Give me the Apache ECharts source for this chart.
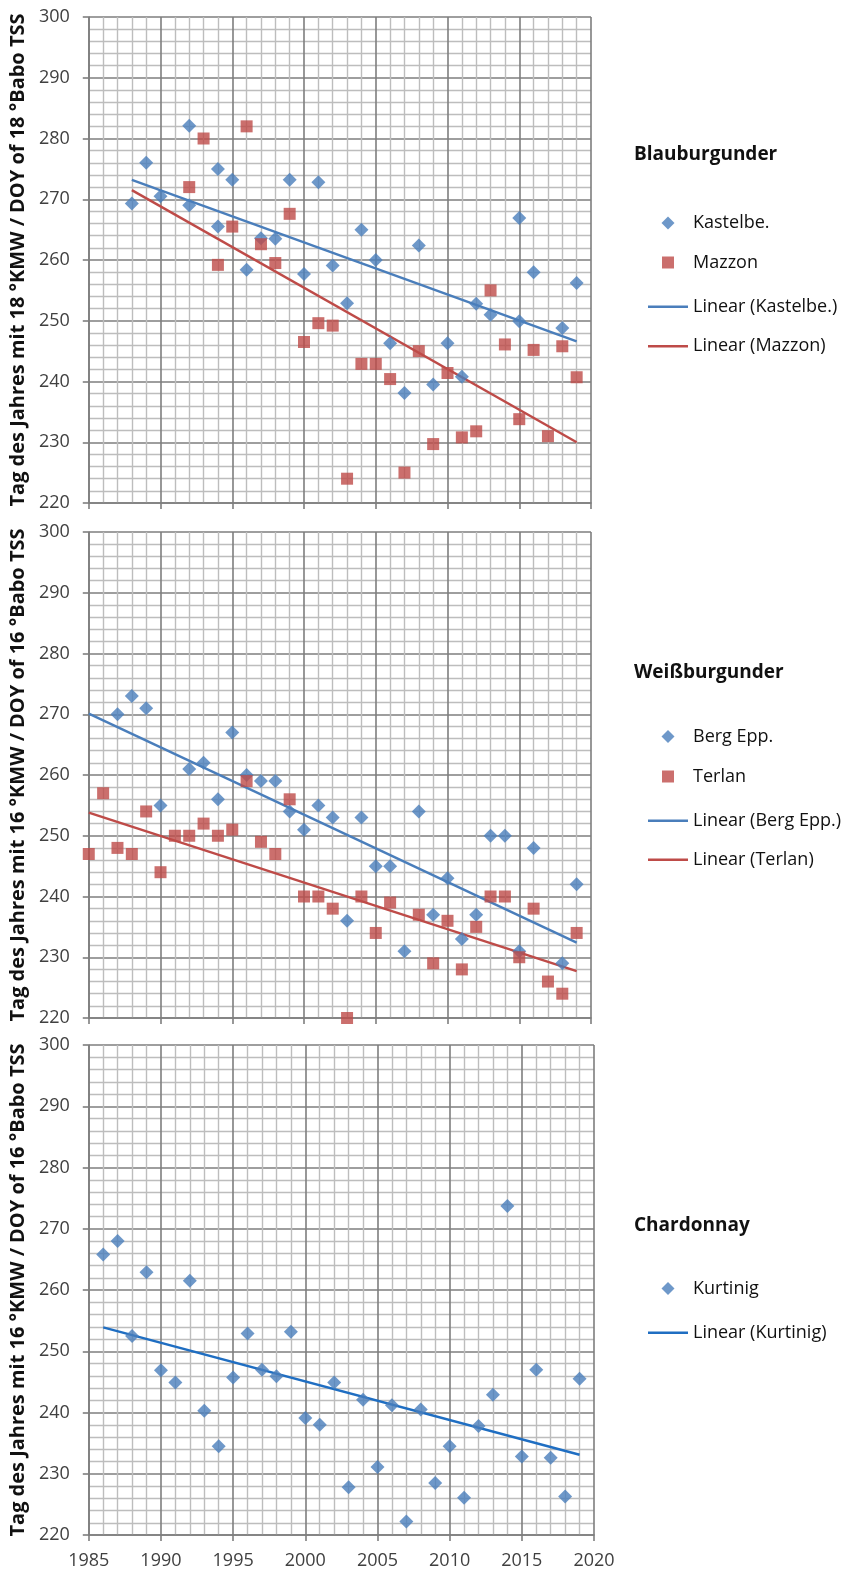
<!DOCTYPE html>
<html><head><meta charset="utf-8">
<script src="https://cdn.jsdelivr.net/npm/echarts@6/dist/echarts.min.js"></script>
<style>html,body{margin:0;padding:0;background:#fff}#c{width:841px;height:1576px}</style>
</head><body><div id="c"></div>
<script>
// ---- Data ----
const kastelbeYears = [1988,1989,1990,1992,1992,1994,1994,1995,1996,1997,1998,1999,2000,2001,2002,2003,2004,2005,2006,2007,2008,2009,2010,2011,2012,2013,2015,2015,2016,2018,2019];
const kastelbeDays  = [269.3,276.0,270.5,282.1,269.0,275.0,265.5,273.2,258.4,263.6,263.5,273.2,257.7,272.8,259.1,252.9,265.0,260.0,246.3,238.1,262.4,239.5,246.3,240.8,252.8,251.0,266.9,249.9,258.0,248.8,256.2];
const mazzonYears = [1992,1993,1994,1995,1996,1997,1998,1999,2000,2001,2002,2003,2004,2005,2006,2007,2008,2009,2010,2011,2012,2013,2014,2015,2016,2017,2018,2019];
const mazzonDays  = [272.0,280.0,259.2,265.5,282.0,262.6,259.5,267.6,246.5,249.6,249.2,224.0,242.9,242.9,240.4,225.0,245.0,229.7,241.4,230.8,231.8,255.0,246.1,233.8,245.2,231.0,245.8,240.7];
const kastelbeTrendYears = [1988, 2019], kastelbeTrendDays = [273.2, 246.6];
const mazzonTrendYears   = [1988, 2019], mazzonTrendDays   = [271.5, 230.0];

const bergEppYears = [1987,1988,1989,1990,1992,1993,1994,1995,1996,1997,1998,1999,2000,2001,2002,2003,2004,2005,2006,2007,2008,2009,2010,2011,2012,2013,2014,2015,2016,2018,2019];
const bergEppDays  = [270,273,271,255,261,262,256,267,260,259,259,254,251,255,253,236,253,245,245,231,254,237,243,233,237,250,250,231,248,229,242];
const terlanYears = [1985,1986,1987,1988,1989,1990,1991,1992,1993,1994,1995,1996,1997,1998,1999,2000,2001,2002,2003,2004,2005,2006,2008,2009,2010,2011,2012,2013,2014,2015,2016,2017,2018,2019];
const terlanDays  = [247,257,248,247,254,244,250,250,252,250,251,259,249,247,256,240,240,238,220,240,234,239,237,229,236,228,235,240,240,230,238,226,224,234];
const bergEppTrendYears = [1985, 2019], bergEppTrendDays = [270.1, 232.4];
const terlanTrendYears  = [1985, 2019], terlanTrendDays  = [253.8, 227.7];

const kurtinigYears = [1986,1987,1988,1989,1990,1991,1992,1993,1994,1995,1996,1997,1998,1999,2000,2001,2002,2003,2004,2005,2006,2007,2008,2009,2010,2011,2012,2013,2014,2015,2016,2017,2018,2019];
const kurtinigDays  = [265.8,268.0,252.5,262.9,246.9,244.9,261.5,240.3,234.5,245.7,252.9,247.0,245.9,253.2,239.1,238.0,244.9,227.8,242.1,231.1,241.2,222.2,240.5,228.5,234.5,226.1,237.8,242.9,273.7,232.8,247.0,232.6,226.3,245.5];
const kurtinigTrendYears = [1986, 2019], kurtinigTrendDays = [253.9, 233.1];

const panelTitles = ['Blauburgunder', 'Weißburgunder', 'Chardonnay'];
const yAxisNames = [
  'Tag des Jahres mit 18 °KMW / DOY of 18 °Babo TSS',
  'Tag des Jahres mit 16 °KMW / DOY of 16 °Babo TSS',
  'Tag des Jahres mit 16 °KMW / DOY of 16 °Babo TSS'
];
const xMin = 1985, xMax = 2020, xStep = 5;
const yMin = 220, yMax = 300, yStep = 10;

// ---- Build chart ----
const zip = (xs, ys) => xs.map((x, i) => [x, ys[i]]);
const FONT = '"Open Sans", Lato, sans-serif';
const BLUE = '#4A7EBB', RED = '#BE4B48', BLUE2 = '#1F6EC2';
const MAJOR = '#7E7E7E', MINOR = '#BDBDBD';

// fit axis-name font so its length matches the reference (~493 px)
function fitFont(text, target, weight) {
  const ctx = document.createElement('canvas').getContext('2d');
  ctx.font = weight + ' 20px ' + FONT;
  return 20 * target / ctx.measureText(text).width;
}

const grids = [
  {left: 87, top: 17, width: 504, height: 486},
  {left: 88, top: 532, width: 503, height: 486},
  {left: 86, top: 1045, width: 508, height: 490}
];

function xAxisFor(i) {
  return {
    type: 'value', gridIndex: i, min: xMin, max: xMax, interval: xStep,
    axisLine: {show: true, lineStyle: {color: MAJOR, width: 1.6}},
    axisTick: {show: true, length: 6, lineStyle: {color: MAJOR, width: 1.6}},
    axisLabel: {show: i === 2, margin: 17, fontSize: 18, color: '#404040', fontFamily: FONT,
      formatter: v => String(v)},
    splitLine: {show: true, lineStyle: {color: MAJOR, width: 1.6}},
    minorTick: {show: false, splitNumber: 5},
    minorSplitLine: {show: true, lineStyle: {color: MINOR, width: 1.4}}
  };
}
function yAxisFor(i) {
  return {
    type: 'value', gridIndex: i, min: yMin, max: yMax, interval: yStep,
    name: yAxisNames[i], nameLocation: 'middle', nameGap: 60,
    nameTextStyle: {fontSize: fitFont(yAxisNames[i], 493, 'bold'), fontWeight: 'bold', color: '#111', fontFamily: FONT},
    axisLine: {show: true, lineStyle: {color: MAJOR, width: 1.6}},
    axisTick: {show: true, length: 6, lineStyle: {color: MAJOR, width: 1.6}},
    axisLabel: {margin: 19, fontSize: 18, color: '#404040', fontFamily: FONT},
    splitLine: {show: true, lineStyle: {color: MAJOR, width: 1.6}},
    minorTick: {show: false, splitNumber: 5},
    minorSplitLine: {show: true, lineStyle: {color: MINOR, width: 1.4}}
  };
}
function scatter(name, i, xs, ys, symbol, color, size) {
  return {name, type: 'scatter', xAxisIndex: i, yAxisIndex: i, data: zip(xs, ys),
    symbol, symbolSize: size, itemStyle: {color}, z: 3};
}
function trend(name, i, xs, ys, color) {
  return {name, type: 'line', xAxisIndex: i, yAxisIndex: i, data: zip(xs, ys),
    symbol: 'none', showSymbol: false, lineStyle: {color, width: 2.4}, itemStyle: {color}, z: 2};
}

const series = [
  scatter('Kastelbe.', 0, kastelbeYears, kastelbeDays, 'diamond', BLUE, 14),
  scatter('Mazzon', 0, mazzonYears, mazzonDays, 'rect', RED, 12),
  trend('Linear (Kastelbe.)', 0, kastelbeTrendYears, kastelbeTrendDays, BLUE),
  trend('Linear (Mazzon)', 0, mazzonTrendYears, mazzonTrendDays, RED),
  scatter('Berg Epp.', 1, bergEppYears, bergEppDays, 'diamond', BLUE, 14),
  scatter('Terlan', 1, terlanYears, terlanDays, 'rect', RED, 12),
  trend('Linear (Berg Epp.)', 1, bergEppTrendYears, bergEppTrendDays, BLUE),
  trend('Linear (Terlan)', 1, terlanTrendYears, terlanTrendDays, RED),
  scatter('Kurtinig', 2, kurtinigYears, kurtinigDays, 'diamond', BLUE, 14),
  trend('Linear (Kurtinig)', 2, kurtinigTrendYears, kurtinigTrendDays, BLUE2)
];

// one legend component per entry so marker and line keys can have their own shapes
const legendEntries = [
  ['Kastelbe.', 'diamond', 215.5], ['Mazzon', 'rect', 254.5],
  ['Linear (Kastelbe.)', 'line', 294], ['Linear (Mazzon)', 'line', 333.5],
  ['Berg Epp.', 'diamond', 729], ['Terlan', 'rect', 768.5],
  ['Linear (Berg Epp.)', 'line', 808], ['Linear (Terlan)', 'line', 847],
  ['Kurtinig', 'diamond', 1281], ['Linear (Kurtinig)', 'line', 1320]
];
const legends = legendEntries.map(([name, kind, cy]) => {
  const textStyle = {fontSize: 18, color: '#111', fontFamily: FONT};
  if (kind === 'line') {
    return {left: 643, top: cy - 1.25, itemWidth: 40, itemHeight: 2.5, selectedMode: false,
      data: [{name, icon: 'rect'}], textStyle};
  }
  const s = kind === 'diamond' ? 13 : 12;
  return {left: 663 - s / 2, top: cy - s / 2, itemWidth: s, itemHeight: s, selectedMode: false,
    data: [{name, icon: kind}], textStyle: Object.assign({padding: [0, 0, 0, 25 - s / 2 - 5 + 5 - 5]}, textStyle)};
});

const titleCenters = [158, 676, 1229];
const option = {
  animation: false,
  backgroundColor: '#fff',
  grid: grids,
  xAxis: [0, 1, 2].map(xAxisFor),
  yAxis: [0, 1, 2].map(yAxisFor),
  title: panelTitles.map((t, i) => ({
    text: t, left: 634, top: titleCenters[i] - 13, padding: 0,
    textStyle: {fontSize: 19, fontWeight: 'bold', color: '#111', fontFamily: FONT}
  })),
  legend: legends,
  series
};
const chart = echarts.init(document.getElementById('c'), null, {renderer: 'canvas', width: 841, height: 1576});
chart.setOption(option);
</script>
</body></html>
